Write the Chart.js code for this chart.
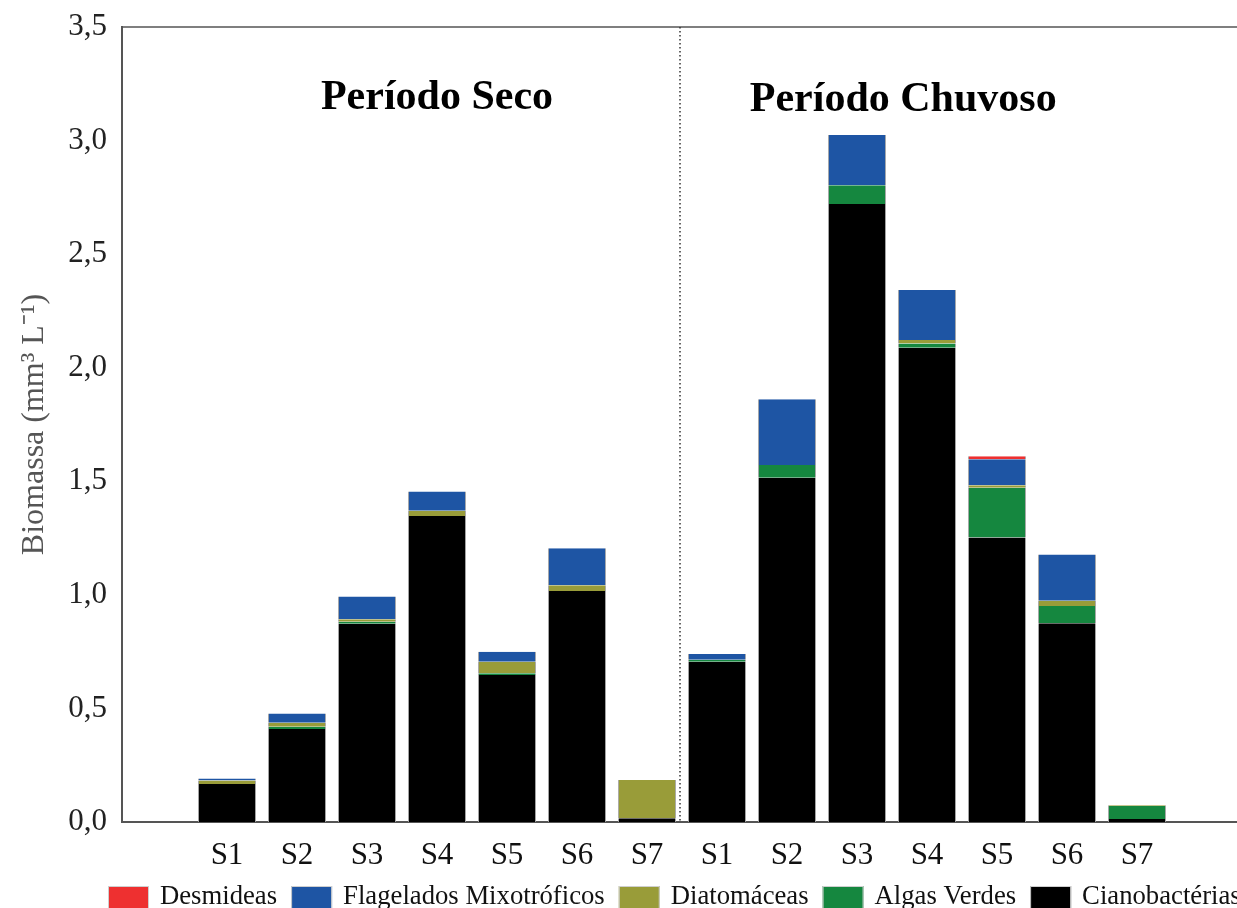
<!DOCTYPE html>
<html>
<head>
<meta charset="utf-8">
<script src="https://cdn.jsdelivr.net/npm/chart.js@4"></script>
<style>
    html, body { margin: 0; padding: 0; background: #fff; overflow: hidden; }
    #wrap { width: 1250px; height: 908px; }
</style>
</head>
<body>
<div id="wrap"><canvas id="graph"></canvas></div>
<script>
// blank slot at each end, as in the original figure
const categories = ['', 'S1', 'S2', 'S3', 'S4', 'S5', 'S6', 'S7', 'S1', 'S2', 'S3', 'S4', 'S5', 'S6', 'S7', ''];

const cianobacterias = [null, 0.167, 0.409, 0.873, 1.347, 0.647, 1.017, 0.016, 0.706, 1.516, 2.721, 2.088, 1.253, 0.875, 0.013, null];
const algasVerdes    = [null, 0, 0.010, 0.009, 0, 0.008, 0, 0, 0.008, 0.056, 0.082, 0.019, 0.218, 0.076, 0.057, null];
const diatomaceas    = [null, 0.016, 0.018, 0.011, 0.023, 0.051, 0.025, 0.169, 0, 0, 0, 0.015, 0.012, 0.023, 0.004, null];
const flagelados     = [null, 0.009, 0.041, 0.100, 0.085, 0.043, 0.163, 0, 0.026, 0.289, 0.222, 0.220, 0.114, 0.204, 0, null];
const desmideas      = [null, 0, 0, 0, 0, 0, 0, 0, 0, 0, 0, 0, 0.013, 0, 0, null];

const periodos = ['Período Seco', 'Período Chuvoso'];
const yTicks = [0, 0.5, 1.0, 1.5, 2.0, 2.5, 3.0, 3.5];

const serif = '"Liberation Serif", "Times New Roman", serif';

function series(label, data, color) {
    return {
        label: label,
        data: data,
        backgroundColor: color,
        borderColor: '#a8a8a8',
        borderWidth: { left: 1, right: 1, top: 0, bottom: 0 },
        borderSkipped: false,
        categoryPercentage: 1.0,
        barPercentage: 0.83,
        stack: 'a'
    };
}

// stacked bottom -> top
const datasets = [
    series('Cianobactérias', cianobacterias, '#000000'),
    series('Algas Verdes', algasVerdes, '#15873f'),
    series('Diatomáceas', diatomaceas, '#999c39'),
    series('Flagelados Mixotróficos', flagelados, '#1e55a4'),
    series('Desmideas', desmideas, '#ee3030')
];

const extras = {
    id: 'extras',
    afterDatasetsDraw(chart) {
        const ctx = chart.ctx;
        const area = chart.chartArea;
        const x = chart.scales.x;
        const y = chart.scales.y;

        ctx.save();

        // top frame line
        ctx.strokeStyle = '#555';
        ctx.lineWidth = 1.5;
        ctx.beginPath();
        ctx.moveTo(area.left, area.top);
        ctx.lineTo(area.right, area.top);
        ctx.stroke();

        // dotted divider between the two periods
        const divX = (x.getPixelForValue(7) + x.getPixelForValue(8)) / 2 - 2;
        ctx.setLineDash([1.5, 2.5]);
        ctx.strokeStyle = '#333';
        ctx.lineWidth = 1.5;
        ctx.beginPath();
        ctx.moveTo(divX, area.top);
        ctx.lineTo(divX, area.bottom);
        ctx.stroke();
        ctx.setLineDash([]);

        // period titles
        ctx.fillStyle = '#000';
        ctx.font = 'bold 42px ' + serif;
        ctx.textAlign = 'center';
        ctx.textBaseline = 'alphabetic';
        const step = x.getPixelForValue(11) - x.getPixelForValue(10);
        ctx.fillText(periodos[0], x.getPixelForValue(4), y.getPixelForValue(3.14));
        ctx.fillText(periodos[1], x.getPixelForValue(10) + 0.66 * step, y.getPixelForValue(3.13));

        // legend (reverse of stacking order)
        ctx.font = '26.7px ' + serif;
        ctx.textAlign = 'left';
        ctx.textBaseline = 'middle';
        let lx = 108;
        const boxTop = 886;
        for (const ds of datasets.slice().reverse()) {
            ctx.fillStyle = ds.backgroundColor;
            ctx.fillRect(lx, boxTop, 41, 24);
            ctx.strokeStyle = '#cfcfcf';
            ctx.lineWidth = 1;
            ctx.strokeRect(lx + 0.5, boxTop + 0.5, 40, 23);
            lx += 41 + 11;
            ctx.fillStyle = '#111';
            ctx.fillText(ds.label, lx, boxTop + 11);
            lx += ctx.measureText(ds.label).width + 14;
        }

        ctx.restore();
    }
};

new Chart(document.getElementById('graph'), {
    type: 'bar',
    data: { labels: categories, datasets: datasets },
    plugins: [extras],
    options: {
        responsive: true,
        maintainAspectRatio: false,
        animation: false,
        layout: { padding: { top: 27, right: 8, bottom: 36, left: 0 } },
        plugins: {
            legend: { display: false },
            tooltip: { enabled: false }
        },
        scales: {
            x: {
                stacked: true,
                grid: { display: false, drawTicks: false },
                border: { display: true, color: '#555', width: 2 },
                ticks: {
                    autoSkip: false,
                    maxRotation: 0,
                    padding: 15,
                    color: '#111',
                    font: { family: serif, size: 31 }
                },
                afterFit(scale) { scale.height = 50; }
            },
            y: {
                stacked: true,
                min: 0,
                max: 3.5,
                grid: { display: false, drawTicks: false },
                border: { display: true, color: '#555', width: 2 },
                afterBuildTicks(scale) {
                    scale.ticks = yTicks.map(v => ({ value: v }));
                },
                ticks: {
                    padding: 15,
                    color: '#222',
                    font: { family: serif, size: 31 },
                    callback: v => v.toFixed(1).replace('.', ',')
                },
                title: {
                    display: true,
                    text: 'Biomassa (mm³ L⁻¹)',
                    color: '#555',
                    font: { family: serif, size: 32 },
                    padding: { top: 15, bottom: 0 }
                },
                afterFit(scale) {
                    scale.width = 122;
                    scale.paddingTop = 0;
                    scale.paddingBottom = 0;
                }
            }
        }
    }
});
</script>
</body>
</html>
